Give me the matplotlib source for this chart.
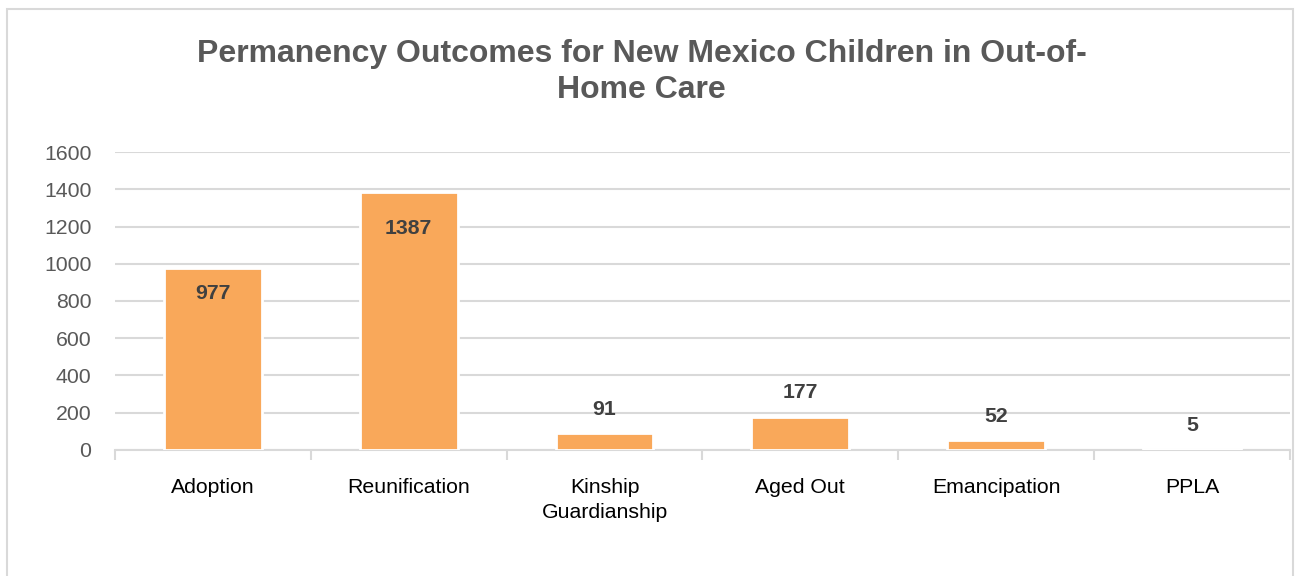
import numpy as np
import matplotlib.pyplot as plt
from matplotlib.patches import Rectangle

plt.rcParams['font.family'] = ['Liberation Sans', 'DejaVu Sans']

categories = ["Adoption", "Reunification", "Kinship\nGuardianship", "Aged Out", "Emancipation", "PPLA"]
values = [977, 1387, 91, 177, 52, 5]
yticks = [0, 200, 400, 600, 800, 1000, 1200, 1400, 1600]

# label offsets (points) relative to bar top
label_offsets = [-18.5, -26.5, 17, 17.5, 17, 17]

bar_color = "#F9A85A"
grid_color = "#D9D9D9"

fig = plt.figure(figsize=(12.99, 5.76), dpi=100)
ax = fig.add_axes([0.0885, 0.219, 0.9045, 0.517])

x = np.arange(len(categories))
bars = ax.bar(x, values, width=0.5, color=bar_color, edgecolor="white", linewidth=2, zorder=3)

ax.set_ylim(0, 1600)
ax.set_xlim(-0.5, len(categories) - 0.5)
ax.set_yticks(yticks)
ax.set_yticklabels([str(t) for t in yticks], fontsize=15.3, color="#595959")
ax.yaxis.grid(True, color=grid_color, linewidth=1.5, zorder=0)
ax.tick_params(axis="y", length=0, pad=17)

# category labels centered, ticks at category boundaries
ax.set_xticks(x)
ax.set_xticklabels(categories, fontsize=15.3, color="#000000", linespacing=1.35)
ax.tick_params(axis="x", which="major", length=0, pad=20.5)
ax.set_xticks(np.arange(-0.5, len(categories)), minor=True)
ax.tick_params(axis="x", which="minor", length=7, color=grid_color, width=1.5)

for s in ["top", "right", "left"]:
    ax.spines[s].set_visible(False)
ax.spines["bottom"].set_color(grid_color)
ax.spines["bottom"].set_linewidth(1.5)

for b, v, off in zip(bars, values, label_offsets):
    cx = b.get_x() + b.get_width() / 2
    ax.annotate(str(v), (cx, v), xytext=(0, off), textcoords="offset points",
                ha="center", va="center", fontsize=15.3, fontweight="bold",
                color="#404040", zorder=4)

fig.text(0.494, 0.875, "Permanency Outcomes for New Mexico Children in Out-of-\nHome Care",
         ha="center", va="center", fontsize=23, fontweight="bold", color="#595959",
         linespacing=1.25)

fig.patches.append(Rectangle((0.0055, -0.01), 0.99, 0.995, transform=fig.transFigure,
                             fill=False, edgecolor="#D9D9D9", linewidth=1.5))

fig.savefig("out.png", dpi=100)
